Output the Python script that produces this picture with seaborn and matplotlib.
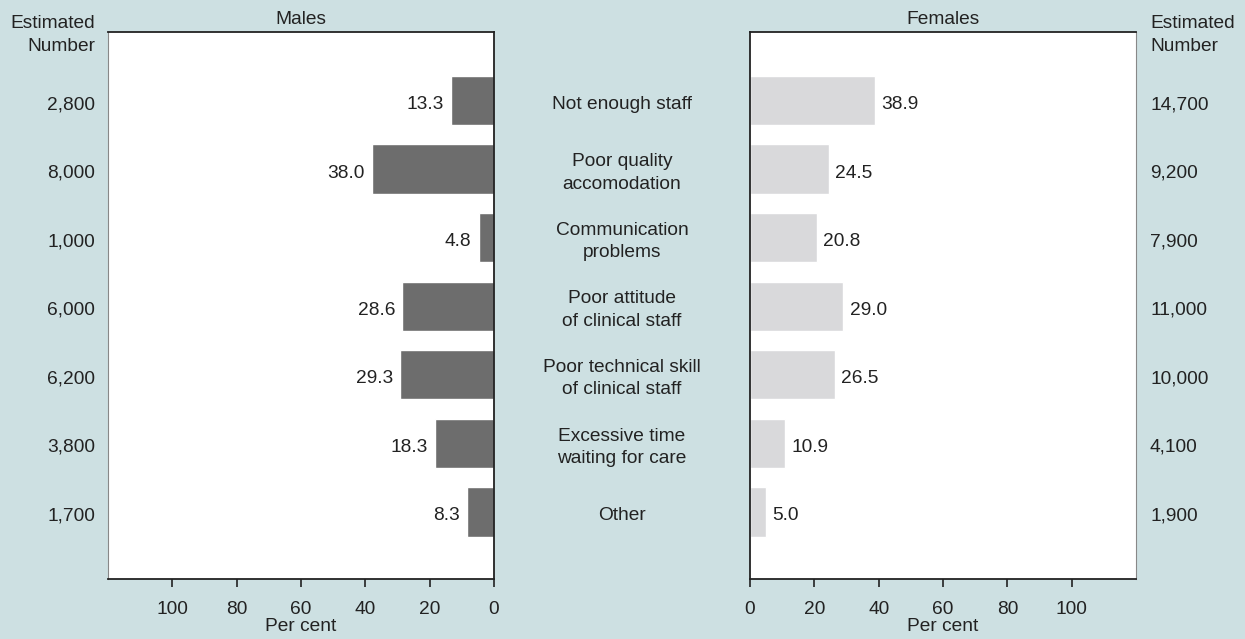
import matplotlib
matplotlib.use("Agg")
import matplotlib.pyplot as plt
import matplotlib.transforms as mtransforms
import seaborn as sns
import pandas as pd

categories = ["Not enough staff", "Poor quality\naccomodation", "Communication\nproblems",
              "Poor attitude\nof clinical staff", "Poor technical skill\nof clinical staff",
              "Excessive time\nwaiting for care", "Other"]
males_pct = [13.3, 38.0, 4.8, 28.6, 29.3, 18.3, 8.3]
females_pct = [38.9, 24.5, 20.8, 29.0, 26.5, 10.9, 5.0]
males_num = ["2,800", "8,000", "1,000", "6,000", "6,200", "3,800", "1,700"]
females_num = ["14,700", "9,200", "7,900", "11,000", "10,000", "4,100", "1,900"]
xticks = [0, 20, 40, 60, 80, 100]

sns.set_theme(style="white")
plt.rcParams['font.family'] = ['Liberation Sans', 'DejaVu Sans']
FS = 13.8
TXT = "#222222"
BG = "#cde0e2"

df = pd.DataFrame({"cat": categories, "m": males_pct, "f": females_pct})

fig = plt.figure(figsize=(12.45, 6.39), dpi=100, facecolor=BG)
W, H = 1245, 639
def rect(x0, x1, ytop, ybot):
    return [x0 / W, (H - ybot) / H, (x1 - x0) / W, (ybot - ytop) / H]

axL = fig.add_axes(rect(108, 494, 32, 579))
axR = fig.add_axes(rect(750, 1136, 32, 579))

sns.barplot(data=df, x="m", y="cat", ax=axL, color="#6d6d6d", width=0.72,
            saturation=1, orient="h")
sns.barplot(data=df, x="f", y="cat", ax=axR, color="#d9d9db", width=0.72,
            saturation=1, orient="h")

for ax in (axL, axR):
    ax.set_facecolor("white")
    ax.set_ylim(6.98, -1.0)
    ax.set_xlim(0, 120)
    ax.set_xticks(xticks)
    ax.set_xticklabels([str(t) for t in xticks], fontsize=FS, color=TXT)
    ax.tick_params(axis="x", direction="out", length=6, width=1.2, color="#222222",
                   pad=10, bottom=True)
    ax.set_xlabel("Per cent", fontsize=FS, color=TXT, labelpad=0)
    ax.set_ylabel("")
    ax.set_yticks([])
    for s in ax.spines.values():
        s.set_visible(True)
        s.set_color("#222222")
        s.set_linewidth(1.3)

axL.invert_xaxis()
axL.spines["left"].set_color("#888888")
axL.spines["left"].set_linewidth(0.8)
axR.spines["right"].set_color("#888888")
axR.spines["right"].set_linewidth(0.8)

down = mtransforms.ScaledTranslation(0, -4 / 100, fig.dpi_scale_trans)

trL = mtransforms.blended_transform_factory(fig.transFigure, axL.transData) + down
for i, (c, n) in enumerate(zip(categories, males_num)):
    axL.text(622 / W, i, c, transform=trL, ha="center", va="center",
             fontsize=FS, color=TXT, linespacing=1.42, clip_on=False)
    axL.text(95 / W, i, n, transform=trL, ha="right", va="center",
             fontsize=FS, color=TXT, clip_on=False)
trR = mtransforms.blended_transform_factory(fig.transFigure, axR.transData) + down
for i, n in enumerate(females_num):
    axR.text(1150 / W, i, n, transform=trR, ha="left", va="center",
             fontsize=FS, color=TXT, clip_on=False)

for ax, pad in ((axL, 5), (axR, 4.5)):
    anns = ax.bar_label(ax.containers[0], fmt="%.1f", padding=pad, fontsize=FS, color=TXT)
    for a in anns:
        a.xyann = (a.xyann[0], a.xyann[1] - 3)

axL.set_title("Males", fontsize=FS, color=TXT, pad=6)
axR.set_title("Females", fontsize=FS, color=TXT, pad=6)

fig.text(95 / W, 1 - 35 / H, "Estimated\nNumber", ha="right", va="center",
         fontsize=FS, color=TXT, linespacing=1.42)
fig.text(1150 / W, 1 - 35 / H, "Estimated\nNumber", ha="left", va="center",
         fontsize=FS, color=TXT, linespacing=1.42)

fig.savefig("out.png", dpi=100, facecolor=BG)
